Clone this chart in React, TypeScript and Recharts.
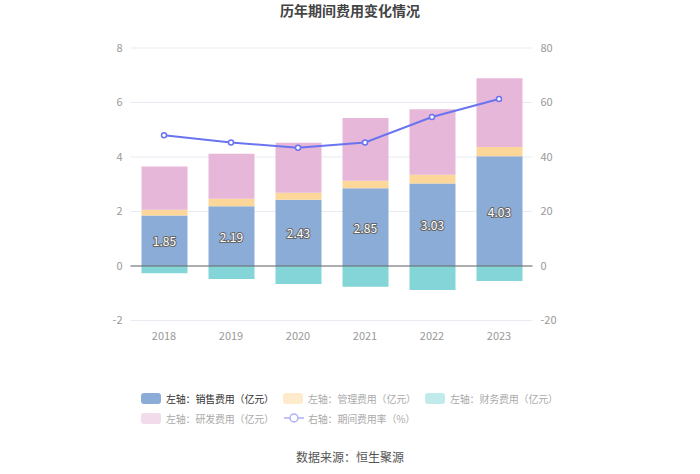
import React from 'react';
import { ComposedChart, Bar, Line, XAxis, YAxis, CartesianGrid, ReferenceLine, LabelList } from 'recharts';

const years = ['2018', '2019', '2020', '2021', '2022', '2023'];
const sales = [1.85, 2.19, 2.43, 2.85, 3.03, 4.03];
const admin = [0.21, 0.28, 0.26, 0.28, 0.32, 0.34];
const finance = [-0.27, -0.48, -0.66, -0.76, -0.88, -0.55];
const rnd = [1.59, 1.65, 1.83, 2.3, 2.4, 2.52];
const rate = [48.0, 45.3, 43.4, 45.3, 54.7, 61.3];
const leftTicks = [-2, 0, 2, 4, 6, 8];
const rightTicks = [-20, 0, 20, 40, 60, 80];

const data = years.map((y, i) => ({
  year: y,
  sales: sales[i],
  admin: admin[i],
  finance: finance[i],
  rnd: rnd[i],
  rate: rate[i],
}));

const FONT = '"Noto Sans CJK SC", "Noto Sans", sans-serif';
const C_SALES = '#8cacd8';
const C_ADMIN = '#fdd79a';
const C_FIN = '#84d5d7';
const C_RND = '#e6b7d8';
const C_LINE = '#6a74f0';

const BarLabel = (props: any) => {
  const { x, y, width, height, value } = props;
  return (
    <text
      x={x + width / 2}
      y={y + height / 2}
      textAnchor="middle"
      dominantBaseline="central"
      fontSize={12}
      fontFamily={FONT}
      fill="#fff"
      stroke="#666"
      strokeWidth={2}
      style={{ paintOrder: 'stroke' }}
    >
      {Number(value).toFixed(2)}
    </text>
  );
};

const legendItems = [
  { label: '左轴：销售费用（亿元）', color: C_SALES, active: true, x: 141, y: 398.5, type: 'rect' },
  { label: '左轴：管理费用（亿元）', color: C_ADMIN, active: false, x: 283, y: 398.5, type: 'rect' },
  { label: '左轴：财务费用（亿元）', color: C_FIN, active: false, x: 425, y: 398.5, type: 'rect' },
  { label: '左轴：研发费用（亿元）', color: C_RND, active: false, x: 141, y: 418, type: 'rect' },
  { label: '右轴：期间费用率（%）', color: C_LINE, active: false, x: 284, y: 418, type: 'line' },
];

export default function App() {
  return (
    <div style={{ position: 'absolute', left: 0, top: 0, width: 700, height: 474, background: '#fff', fontFamily: FONT }}>
      <div style={{ position: 'absolute', left: 0, top: 0, width: 700, textAlign: 'center', fontSize: 14, fontWeight: 'bold', color: '#444' }}>
        历年期间费用变化情况
      </div>
      <ComposedChart
        width={700}
        height={474}
        data={data}
        stackOffset="sign"
        margin={{ top: 48, right: 0, bottom: 123.5, left: 0 }}
      >
        <CartesianGrid vertical={false} stroke="#e8ebf2" yAxisId="left" />
        <XAxis
          dataKey="year"
          axisLine={false}
          tickLine={false}
          height={30}
          tickMargin={6}
          tick={{ fontSize: 11, fill: '#999', fontFamily: FONT }}
        />
        <YAxis
          yAxisId="left"
          domain={[-2, 8]}
          ticks={leftTicks}
          axisLine={false}
          tickLine={false}
          width={130.5}
          tickSize={0}
          tickMargin={8}
          tick={{ fontSize: 11, fill: '#999', fontFamily: FONT }}
        />
        <YAxis
          yAxisId="right"
          orientation="right"
          domain={[-20, 80]}
          ticks={rightTicks}
          axisLine={false}
          tickLine={false}
          width={167.5}
          tickSize={0}
          tickMargin={8}
          tick={{ fontSize: 11, fill: '#999', fontFamily: FONT, textAnchor: 'start' }}
        />
        <ReferenceLine y={0} yAxisId="left" stroke="#666" strokeWidth={1} />
        <Bar dataKey="sales" stackId="a" yAxisId="left" fill={C_SALES} barSize={46} isAnimationActive={false}>
          <LabelList dataKey="sales" content={BarLabel} />
        </Bar>
        <Bar dataKey="admin" stackId="a" yAxisId="left" fill={C_ADMIN} barSize={46} isAnimationActive={false} />
        <Bar dataKey="finance" stackId="a" yAxisId="left" fill={C_FIN} barSize={46} isAnimationActive={false} />
        <Bar dataKey="rnd" stackId="a" yAxisId="left" fill={C_RND} barSize={46} isAnimationActive={false} />
        <Line
          dataKey="rate"
          yAxisId="right"
          stroke={C_LINE}
          strokeWidth={2}
          dot={{ r: 2.5, fill: '#fff', stroke: C_LINE, strokeWidth: 1.5 }}
          isAnimationActive={false}
        />
      </ComposedChart>
      {legendItems.map((it, i) => (
        <div
          key={i}
          style={{
            position: 'absolute',
            left: it.x,
            top: it.y - 8,
            height: 16,
            display: 'flex',
            alignItems: 'center',
            fontSize: 10,
            letterSpacing: -0.2,
            color: it.active ? '#333' : '#aaa',
            whiteSpace: 'nowrap',
          }}
        >
          {it.type === 'rect' ? (
            <div
              style={{
                width: 20,
                height: 11,
                borderRadius: 3,
                background: it.color,
                opacity: it.active ? 1 : 0.5,
                marginRight: 5,
              }}
            />
          ) : (
            <svg width={20} height={14} style={{ marginRight: 4, opacity: 0.55 }}>
              <line x1={0} y1={7} x2={20} y2={7} stroke={it.color} strokeWidth={1.5} />
              <circle cx={10} cy={7} r={4} fill="#fff" stroke={it.color} strokeWidth={1.5} />
            </svg>
          )}
          <span>{it.label}</span>
        </div>
      ))}
      <div style={{ position: 'absolute', left: 0, top: 448, width: 700, textAlign: 'center', fontSize: 12, color: '#555' }}>
        数据来源：恒生聚源
      </div>
    </div>
  );
}
